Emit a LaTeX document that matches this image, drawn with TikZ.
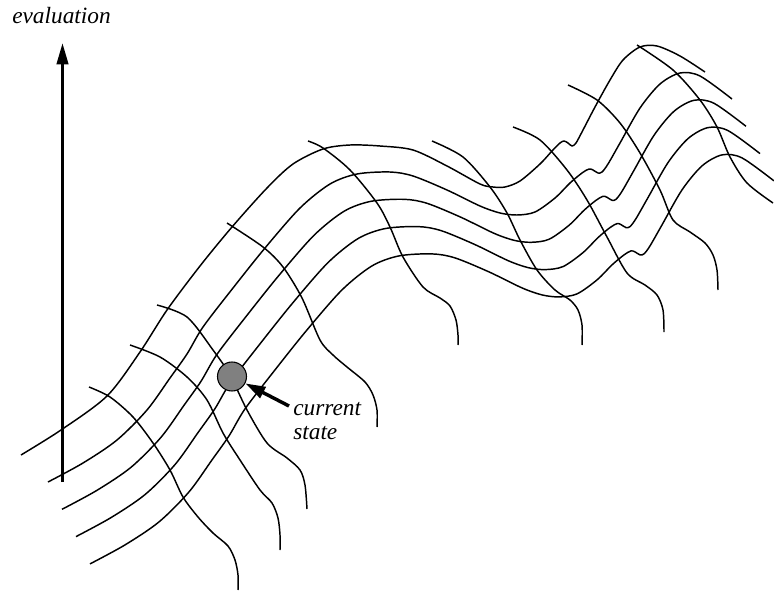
\documentclass[tikz,border=0pt]{standalone}
\usepackage{fontspec}
\setmainfont{Liberation Serif}
\usetikzlibrary{arrows.meta}
\begin{document}
\begin{tikzpicture}[x=0.75pt,y=-0.75pt,
  curve/.style={line width=1.1pt, line join=round, line cap=butt},
  lbl/.style={font=\fontsize{17.5}{18}\selectfont\itshape, inner sep=0pt, anchor=base west},
  bigarrow/.style={line width=2.3pt, -{Triangle[length=16pt,width=8.5pt]}},
  ptrarrow/.style={line width=2.6pt, -{Triangle[length=15pt,width=9pt]}},
  statedot/.style={circle, draw, fill=gray, line width=0.8pt, minimum size=21.75pt, inner sep=0pt}]
\useasboundingbox (0,0) rectangle (774,592);

% longitudinal curves
\draw[curve] plot[smooth, tension=0.5] coordinates {(21,455) (61,430) (107,396) (140,352) (167,310) (200,266) (232,227) (267,188) (293,164) (323,149) (350,145) (380,146) (413,150) (447,166) (480,184) (493,187) (505,187) (520,181) (540,164) (552,151) (560,143) (564,141) (568,143) (572,146) (576,143) (583,130) (595,107) (610,80) (623,60) (640,47) (657,46) (680,56) (705,72)};
\foreach \k in {0,1,2,3}{
  \draw[curve, shift={(14*\k,27.3*\k)}] plot[smooth, tension=0.5] coordinates {(48,482) (83,463) (117,440) (147,410) (170,378) (187,354) (203,327) (233,288) (265,248) (300,208) (330,184) (357,174) (390,172) (413,176) (447,190) (480,206) (500,213) (517,215) (535,212) (555,198) (570,183) (582,173) (589,169) (593,170) (598,173) (602,172) (608,164) (620,143) (640,108) (660,84) (680,73) (700,76) (732,99)};
}

% transverse curves
\draw[curve] plot[smooth, tension=0.5] coordinates {(89,387) (110,397) (133,417) (153,443) (170,470) (183,497) (198,517) (213,533) (228,546) (235,560) (238,575) (238,590)};
\draw[curve] plot[smooth, tension=0.5] coordinates {(130,345) (160,357) (187,377) (207,400) (223,433) (240,460) (260,490) (272,503) (278,518) (280,535) (280,550)};
\draw[curve] plot[smooth, tension=0.5] coordinates {(157,305) (187,317) (213,350) (230,375) (247,410) (267,443) (287,458) (300,470) (305,485) (307,509)};
\draw[curve] plot[smooth, tension=0.5] coordinates {(227,223) (263,247) (283,267) (302,298) (320,340) (333,355) (347,367) (365,382) (373,395) (377,410) (377,427)};
\draw[curve] plot[smooth, tension=0.5] coordinates {(308,141) (323,148) (350,170) (377,203) (390,227) (403,257) (423,287) (440,298) (450,306) (456,320) (458,335) (458,345)};
\draw[curve] plot[smooth, tension=0.5] coordinates {(432,141) (463,157) (490,187) (507,213) (520,240) (537,270) (555,290) (570,300) (578,310) (582,325) (582,345)};
\draw[curve] plot[smooth, tension=0.5] coordinates {(513,127) (540,140) (567,170) (587,200) (607,237) (627,273) (645,285) (657,295) (663,310) (664,332)};
\draw[curve] plot[smooth, tension=0.5] coordinates {(568,85) (597,100) (620,123) (640,153) (660,190) (673,220) (690,232) (705,243) (713,255) (717,270) (718,290)};
\draw[curve] plot[smooth, tension=0.5] coordinates {(637,45) (673,70) (700,100) (717,127) (730,157) (747,183) (773,203)};

% evaluation axis
\node[lbl] (evallbl) at (12,24) {evaluation};
\coordinate (ebot) at (62.5,482);
\coordinate (etop) at (62.5,43);
\draw[bigarrow] (ebot) -- (etop);

% current state
\node[statedot] (state) at (232,376.5) {};
\node[lbl] (curlbl) at (293,415) {current};
\node[lbl] (stalbl) at (293,439) {state};
\coordinate (atail) at (289,406);
\draw[ptrarrow] (atail) -- (state);
\end{tikzpicture}
\end{document}
